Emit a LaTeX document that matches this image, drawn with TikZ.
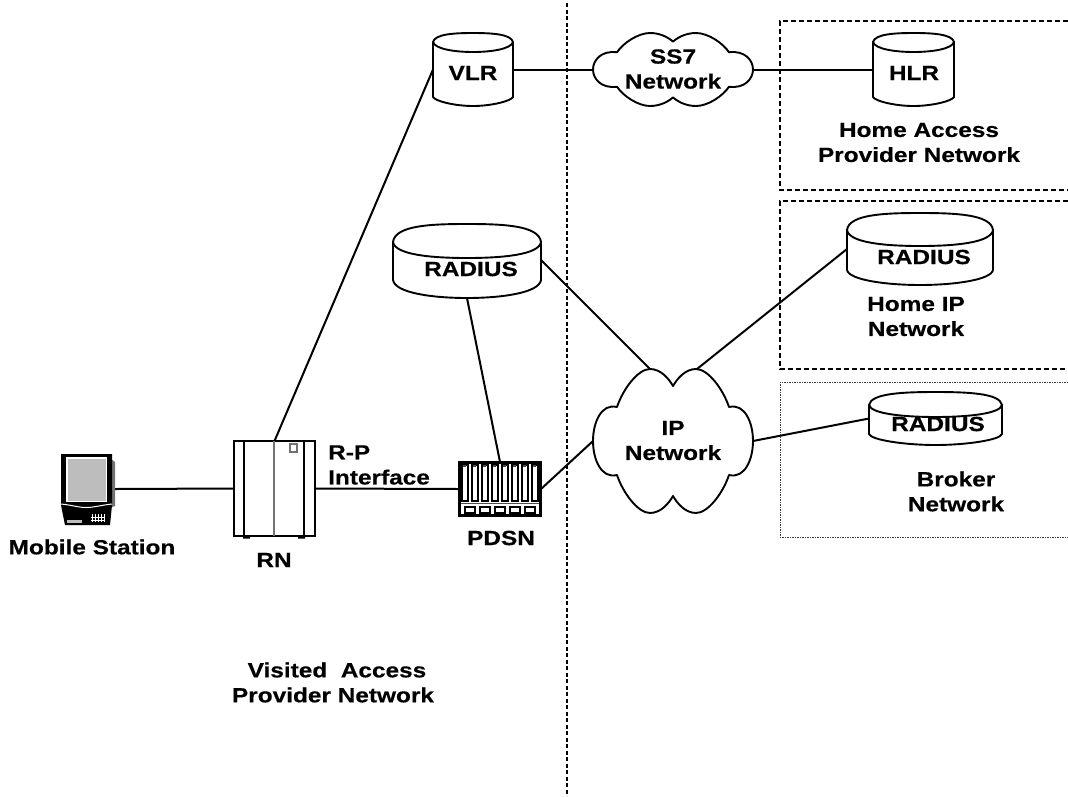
\documentclass[tikz,border=0pt]{standalone}
\usepackage{fontspec}
\newfontfamily\lblfont[FakeStretch=1.19,FakeBold=0.4]{Liberation Sans Bold}
\definecolor{screengray}{gray}{0.74}
\definecolor{midgray}{gray}{0.45}
\newcommand{\cylshape}[7]{%
  \pgfmathsetmacro{\xa}{#1}\pgfmathsetmacro{\xb}{#2}
  \pgfmathsetmacro{\xm}{(#1+#2)/2}\pgfmathsetmacro{\wq}{(#2-#1)*0.27}
  \pgfmathsetmacro{\xl}{#1+\wq}\pgfmathsetmacro{\xr}{#2-\wq}
  \draw[cylline,fill=white] (\xa,#4) .. controls (\xa+2,#3+1) and (\xl,#3) .. (\xm,#3)
    .. controls (\xr,#3) and (\xb-2,#3+1) .. (\xb,#4)
    -- (\xb,#6) .. controls (\xb-2,#7-5) and (\xr,#7) .. (\xm,#7)
    .. controls (\xl,#7) and (\xa+2,#7-5) .. (\xa,#6) -- cycle;
  \draw[cylline] (\xa,#4) .. controls (\xa+2,#5-3) and (\xl,#5) .. (\xm,#5)
    .. controls (\xr,#5) and (\xb-2,#5-3) .. (\xb,#4);
}
\newcommand{\cloudshape}[3]{%
  \begin{scope}[shift={(#1,#2)},yscale=#3]
  \draw[cylline,fill=white] (-80,0)
    .. controls (-80,-18) and (-72,-38) .. (-56,-34)
    .. controls (-50,-52) and (-35,-72) .. (-23,-72)
    .. controls (-12,-72) and (-4,-62) .. (0,-55)
    .. controls (4,-62) and (12,-72) .. (23,-72)
    .. controls (35,-72) and (50,-52) .. (56,-34)
    .. controls (72,-38) and (80,-18) .. (80,0)
    .. controls (80,18) and (72,38) .. (56,34)
    .. controls (50,52) and (35,72) .. (23,72)
    .. controls (12,72) and (4,62) .. (0,55)
    .. controls (-4,62) and (-12,72) .. (-23,72)
    .. controls (-35,72) and (-50,52) .. (-56,34)
    .. controls (-72,38) and (-80,18) .. (-80,0) -- cycle;
  \end{scope}
}
\tikzset{
  cylline/.style={line width=1.9pt,line join=round},
  conn/.style={line width=2pt,black},
  lbl/.style={font=\lblfont\fontsize{20.5}{25}\selectfont,align=center,inner sep=0pt,text=black},
  anchorbox/.style={inner sep=0pt,outer sep=0pt,minimum width=#1},
  boxdash/.style={line width=1.8pt,dash pattern=on 5pt off 3pt},
  boxdot/.style={line width=1pt,dash pattern=on 1.5pt off 1pt,black!75},
}
\begin{document}
\begin{tikzpicture}[x=1pt,y=-1pt]
\useasboundingbox (0,0) rectangle (1068,796);
\fill[white] (0,0) rectangle (1068,796);
% anchors
\node[anchorbox=80pt,minimum height=73pt] (vlr) at (473,69.5) {};
\node[anchorbox=81pt,minimum height=73pt] (hlr) at (913.5,69.5) {};
\node[anchorbox=148pt,minimum height=74pt] (radv) at (467,261) {};
\node[anchorbox=146pt,minimum height=72pt] (radh) at (920,249) {};
\node[anchorbox=133pt,minimum height=53pt] (radb) at (935.5,418.5) {};
\node[anchorbox=81pt,minimum height=95pt] (rn) at (274.5,488.5) {};
\node[anchorbox=82pt,minimum height=54pt] (pdsn) at (500,489) {};
\node[anchorbox=54pt,minimum height=71pt] (ms) at (88,489) {};
\node[anchorbox=160pt,minimum height=73pt] (ss7) at (673,69.5) {};
\node[anchorbox=160pt,minimum height=144pt] (ipn) at (673,441) {};
\coordinate (iptl) at (650,369);
\coordinate (iptr) at (697,369);
\coordinate (radvse) at (541,260);
% region boundaries
\draw[line width=2pt,dash pattern=on 4pt off 2.5pt] (567,3) -- (567,796);
\draw[boxdash] (1068,21) -- (780,21) -- (780,190) -- (1068,190);
\draw[boxdash] (1068,201) -- (780,201) -- (780,369) -- (1068,369);
\draw[boxdot] (1068,382) -- (780,382) -- (780,537) -- (1068,537);
% connectors
\draw[conn] (ms.east) -- (rn.west);
\draw[conn] (rn.east) -- (pdsn.west);
\draw[conn] (rn.north) -- (vlr.west);
\draw[conn] (vlr.east) -- (ss7.west);
\draw[conn] (ss7.east) -- (hlr.west);
\draw[conn] (radv.south) -- (pdsn.north);
\draw[conn] (radvse) -- (iptl);
\draw[conn] (pdsn.east) -- (ipn.west);
\draw[conn] (iptr) -- (radh.west);
\draw[conn] (ipn.east) -- (radb.west);
% cylinders
\cylshape{433}{513}{33}{42}{52}{97}{106}
\cylshape{873}{954}{33}{42}{52}{97}{106}
\cylshape{393}{541}{224}{242}{258}{280}{298}
\cylshape{847}{993}{213}{230}{246}{270}{285}
\cylshape{869}{1002}{392}{405}{417}{434}{445}
% clouds
\cloudshape{673}{69.5}{0.507}
\cloudshape{673}{441}{1}
% mobile station
\fill[midgray] (110,458) -- (115,462) -- (115,506) -- (110,508) -- cycle;
\fill[black] (61,454) -- (112,454) -- (112,505) -- (110,525) -- (65,525) -- (61,505) -- cycle;
\fill[white] (66,457) rectangle (107,502);
\fill[screengray] (67.5,458.5) rectangle (105.5,500.5);
\draw[white,line width=1pt] (61,504) .. controls (72,505) and (78,507.5) .. (86,507.5) .. controls (94,507.5) and (102,505) .. (112,504);
\fill[screengray] (67,519.5) rectangle (82,522.5);
\foreach \kx in {92,95,98,101,104}{\draw[white,line width=0.8pt] (\kx,514) -- (\kx,522);}
\draw[white,line width=0.7pt] (91,517) -- (105,517) (91,520.5) -- (105,520.5);
% RN
\draw[line width=1.7pt] (234,441) rectangle (315,536);
\draw[line width=2.5pt] (244,441) -- (244,536) (304,441) -- (304,536);
\draw[midgray,line width=1.4pt] (274,441) -- (274,536);
\draw[midgray,line width=1.1pt] (290,444) rectangle (297,452);
\fill[black] (243,536) rectangle (250,538.5) (298,536) rectangle (305,538.5);
% PDSN
\draw[line width=2.6pt,fill=white] (459.5,462.5) rectangle (540.5,515.5);
\foreach \sx in {462,472,482,492,502,512,522,532}{
  \draw[line width=1.1pt] (\sx,465) rectangle (\sx+6,501);
  \fill[black!70] (\sx+1,464.5) rectangle (\sx+3.5,466.5);
}
\draw[line width=1pt,black!70] (461,503) -- (539,503);
\foreach \sx in {465,480,495,510,525}{\draw[line width=1.1pt] (\sx,507) rectangle (\sx+10,513);}
% labels
\node[lbl] (tvlr) at (473,73) {VLR};
\node[lbl] (thlr) at (914,73) {HLR};
\node[lbl] (tss7) at (673,69) {SS7\\Network};
\node[lbl] (thap) at (919,142.5) {Home Access\\Provider Network};
\node[lbl] (tradv) at (471,269) {RADIUS};
\node[lbl] (tradh) at (924,257) {RADIUS};
\node[lbl] (thip) at (916,316.5) {Home IP\\Network};
\node[lbl] (tradb) at (938,424) {RADIUS};
\node[lbl] (tbrk) at (956,491.5) {Broker\\Network};
\node[lbl] (tip) at (673,440.5) {IP\\Network};
\node[lbl,align=left,anchor=west] (trp) at (328,465) {R-P\\Interface};
\node[lbl] (tpdsn) at (501,538) {PDSN};
\node[lbl] (trn) at (274,560) {RN};
\node[lbl] (tms) at (92,547) {Mobile Station};
\node[lbl] (tvis) at (333,682.5) {\hspace*{8pt}Visited\ \ Access\\Provider Network};
\end{tikzpicture}
\end{document}
